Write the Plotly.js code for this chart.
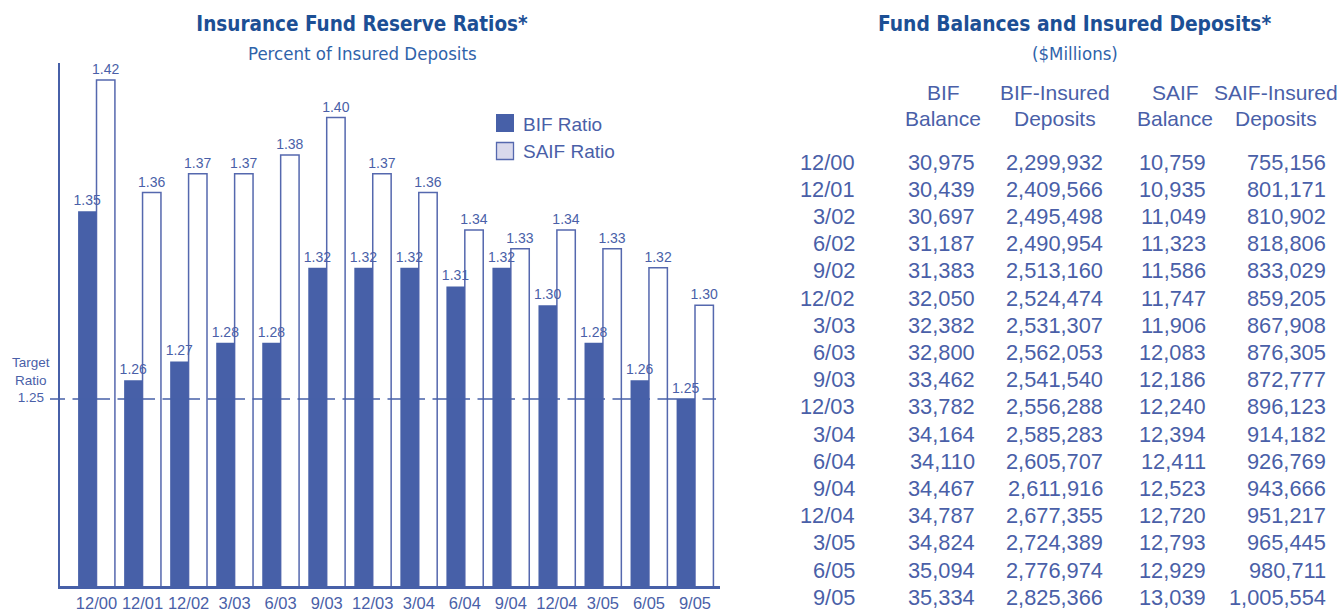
<!DOCTYPE html>
<html>
<head>
<meta charset="utf-8">
<script src="https://cdn.plot.ly/plotly-3.0.1.min.js"></script>
<style>
  html, body { margin: 0; padding: 0; background: #ffffff; }
  #chart { width: 1342px; height: 613px; }
</style>
</head>
<body>
<div id="chart"></div>
<script>
// ---- Chart data ----
const categories = ['12/00','12/01','12/02','3/03','6/03','9/03','12/03','3/04','6/04','9/04','12/04','3/05','6/05','9/05'];
const bifRatio  = [1.35,1.26,1.27,1.28,1.28,1.32,1.32,1.32,1.31,1.32,1.30,1.28,1.26,1.25];
const saifRatio = [1.42,1.36,1.37,1.37,1.38,1.40,1.37,1.36,1.34,1.33,1.34,1.33,1.32,1.30];
const targetRatio = 1.25;

// ---- Table data ----
const tableDates = ['12/00','12/01','3/02','6/02','9/02','12/02','3/03','6/03','9/03','12/03','3/04','6/04','9/04','12/04','3/05','6/05','9/05'];
const bifBalance = [30975,30439,30697,31187,31383,32050,32382,32800,33462,33782,34164,34110,34467,34787,34824,35094,35334];
const bifDeposits = [2299932,2409566,2495498,2490954,2513160,2524474,2531307,2562053,2541540,2556288,2585283,2605707,2611916,2677355,2724389,2776974,2825366];
const saifBalance = [10759,10935,11049,11323,11586,11747,11906,12083,12186,12240,12394,12411,12523,12720,12793,12929,13039];
const saifDeposits = [755156,801171,810902,818806,833029,859205,867908,876305,872777,896123,914182,926769,943666,951217,965445,980711,1005554];
const tableHeaders = [['BIF','Balance'],['BIF-Insured','Deposits'],['SAIF','Balance'],['SAIF-Insured','Deposits']];

// ---- Style / layout constants ----
const W = 1342, H = 613;
const px = x => x / W;
const py = y => 1 - y / H;
const BLUE = '#4760a8';
const TEXT = '#4a5fa8';
const TITLE = '#1c4f95';
const SUB = '#2f63aa';
const NARROW = '"Liberation Sans Narrow", "Arial Narrow", "DejaVu Sans Condensed", sans-serif';
const SANS = '"Liberation Sans", Arial, sans-serif';
const BAR_W = 0.4;

const labelFont = { family: SANS, size: 14, color: TEXT };
// SAIF drawn first so that the BIF value labels sit on top of the white SAIF bars
const traces = [
  {
    type: 'bar', name: 'SAIF Ratio', x: categories, y: saifRatio,
    offset: 0, width: BAR_W,
    marker: { color: '#ffffff', line: { color: '#5568ae', width: 1.5 } },
    texttemplate: '%{y:.2f}', textposition: 'outside', constraintext: 'none',
    textfont: labelFont, cliponaxis: false, hoverinfo: 'x+y'
  },
  {
    type: 'bar', name: 'BIF Ratio', x: categories, y: bifRatio,
    offset: -BAR_W, width: BAR_W,
    marker: { color: BLUE, line: { width: 0 } },
    texttemplate: '%{y:.2f}', textposition: 'outside', constraintext: 'none',
    textfont: labelFont, cliponaxis: false, hoverinfo: 'x+y'
  }
];

// dashed target line pattern
let dashParts = ['15px', '7.5px'];
for (let i = 0; i < 16; i++) { dashParts.push('37.5px', '7.5px'); }

const shapes = [
  { type: 'line', layer: 'above', xref: 'paper', yref: 'y', x0: px(50), x1: px(716),
    y0: targetRatio, y1: targetRatio, line: { color: BLUE, width: 1.3, dash: dashParts.join(',') } },
  // legend swatches
  { type: 'rect', xref: 'paper', yref: 'paper', x0: px(496), x1: px(514), y0: py(132), y1: py(114),
    fillcolor: BLUE, line: { width: 0 } },
  { type: 'rect', xref: 'paper', yref: 'paper', x0: px(496.5), x1: px(513.5), y0: py(159.5), y1: py(142.5),
    fillcolor: '#d9d9ec', line: { color: '#5568ae', width: 1.3 } }
];

const annotations = [];
// subtitles
annotations.push({ xref: 'paper', yref: 'paper', x: px(362), y: py(53), xanchor: 'center', yanchor: 'middle',
  text: 'Percent of Insured Deposits', showarrow: false, font: { family: NARROW, size: 18.5, color: SUB } });
annotations.push({ xref: 'paper', yref: 'paper', x: px(1074), y: py(24), xanchor: 'center', yanchor: 'middle',
  text: '<b>Fund Balances and Insured Deposits*</b>', showarrow: false, font: { family: NARROW, size: 20.8, color: TITLE } });
annotations.push({ xref: 'paper', yref: 'paper', x: px(1075), y: py(53), xanchor: 'center', yanchor: 'middle',
  text: '($Millions)', showarrow: false, font: { family: NARROW, size: 18.5, color: SUB } });
// legend text
annotations.push({ xref: 'paper', yref: 'paper', x: px(521), y: py(124), xanchor: 'left', yanchor: 'middle',
  text: 'BIF Ratio', showarrow: false, font: { family: SANS, size: 19, color: TEXT } });
annotations.push({ xref: 'paper', yref: 'paper', x: px(521), y: py(152), xanchor: 'left', yanchor: 'middle',
  text: 'SAIF Ratio', showarrow: false, font: { family: SANS, size: 19, color: TEXT } });
// target ratio label
annotations.push({ xref: 'paper', yref: 'y', x: px(31), y: targetRatio, xanchor: 'center', yanchor: 'bottom',
  yshift: -8, text: 'Target<br>Ratio<br>1.25', align: 'center', showarrow: false,
  font: { family: SANS, size: 13.5, color: TEXT } });

// table
const colRight = [857, 977, 1105, 1208, 1328];
const headCenter = [943, 1055, 1175, 1276];
const headY = [93, 118];
const row0 = 162, rowStep = 27.2;
const fmt = v => v.toLocaleString('en-US');
tableHeaders.forEach((h, c) => {
  h.forEach((line, k) => {
    annotations.push({ xref: 'paper', yref: 'paper', x: px(headCenter[c]), y: py(headY[k]),
      xanchor: 'center', yanchor: 'middle', text: line, showarrow: false,
      font: { family: SANS, size: 21, color: TEXT } });
  });
});
const columns = [tableDates, bifBalance.map(fmt), bifDeposits.map(fmt), saifBalance.map(fmt), saifDeposits.map(fmt)];
columns.forEach((col, c) => {
  col.forEach((val, i) => {
    annotations.push({ xref: 'paper', yref: 'paper', x: px(colRight[c]), y: py(row0 + i * rowStep),
      xanchor: 'right', yanchor: 'middle', text: val, showarrow: false,
      font: { family: SANS, size: 21.8, color: TEXT } });
  });
});

const layout = {
  width: W, height: H,
  margin: { l: 0, r: 0, t: 0, b: 0 },
  paper_bgcolor: '#ffffff', plot_bgcolor: '#ffffff',
  showlegend: false,
  barmode: 'overlay',
  title: { text: '<b>Insurance Fund Reserve Ratios*</b>', xref: 'paper', yref: 'container',
    x: px(362), y: 1 - 24 / H, xanchor: 'center', yanchor: 'middle',
    font: { family: NARROW, size: 20.5, color: TITLE } },
  xaxis: {
    domain: [px(60), px(720)], range: [-0.793, 13.543], type: 'category',
    showline: true, linecolor: BLUE, linewidth: 3, showgrid: false, zeroline: false,
    ticks: '', tickfont: { family: SANS, size: 16.5, color: TEXT }, fixedrange: true
  },
  yaxis: {
    domain: [1 - 586 / H, 1 - 63 / H], range: [1.15035, 1.42905],
    showline: true, linecolor: BLUE, linewidth: 2.5, showgrid: false, zeroline: false,
    showticklabels: false, ticks: '', fixedrange: true
  },
  shapes: shapes,
  annotations: annotations
};

Plotly.newPlot('chart', traces, layout, { displayModeBar: false, staticPlot: true });
</script>
</body>
</html>
